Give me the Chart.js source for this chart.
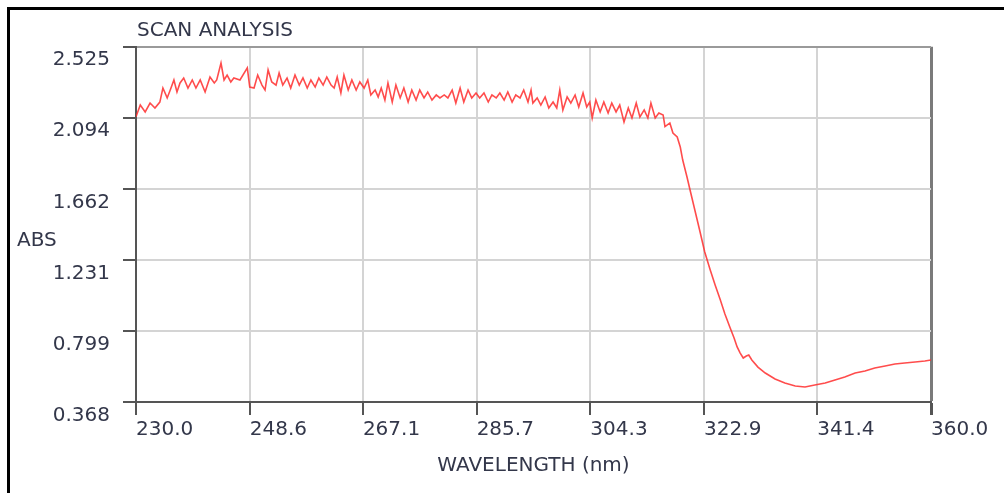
<!DOCTYPE html>
<html>
<head>
<meta charset="utf-8">
<script src="https://cdn.jsdelivr.net/npm/chart.js@4.4.1/dist/chart.umd.min.js"></script>
<style>
  html, body { margin:0; padding:0; background:#fff; overflow:hidden; }
  body { width:1004px; height:493px; position:relative; font-family:"DejaVu Sans", sans-serif; color:#33374a; }
  #frame { position:absolute; left:7px; top:7px; width:1100px; height:600px; border:3px solid #000; }
  #chart { position:absolute; left:0; top:0; }
  .lbl { position:absolute; font-size:20px; line-height:22px; white-space:nowrap; }
  #title { left:137px; top:18px; }
  #ylab { left:17px; top:228px; }
</style>
</head>
<body>
<div id="frame"></div>
<canvas id="chart" width="1004" height="493"></canvas>
<div class="lbl" id="title">SCAN ANALYSIS</div>
<div class="lbl" id="ylab">ABS</div>
<script>
// scan data
const wavelengths = [
  230.0,230.7,231.5,232.3,233.1,233.9,234.4,235.1,235.6,236.2,236.7,237.2,237.8,238.5,239.2,239.8,
  240.5,241.3,242.1,242.8,243.2,243.9,244.4,244.9,245.5,246.0,247.0,248.2,248.6,249.3,249.9,
  250.6,251.1,251.6,252.2,252.9,253.4,254.0,254.7,255.3,256.0,256.7,257.3,258.0,258.6,259.3,259.9,
  260.6,261.2,261.9,262.4,262.9,263.5,264.0,264.7,265.3,266.0,266.6,267.3,267.9,268.4,269.1,269.6,
  270.1,270.7,271.2,271.9,272.5,273.2,273.8,274.5,275.1,275.8,276.4,277.1,277.7,278.4,279.1,279.7,
  280.4,281.0,281.7,282.3,283.0,283.6,284.3,284.9,285.6,286.2,286.9,287.6,288.2,288.9,289.5,
  290.2,290.8,291.5,292.1,292.8,293.4,294.1,294.6,294.9,295.6,296.2,296.9,297.5,298.2,298.8,299.3,299.8,
  300.5,301.1,301.8,302.4,303.1,303.7,304.2,304.6,305.2,305.9,306.5,307.2,307.8,308.5,309.1,309.8,
  310.5,311.1,311.8,312.4,313.1,313.7,314.2,314.9,315.5,316.2,316.5,317.3,317.8,318.5,319.0,319.4,
  320.1,320.6,322.2,323.0,323.4,323.9,324.7,325.5,326.3,327.1,327.8,328.3,328.8,329.3,329.8,
  330.2,330.7,331.7,332.9,334.5,336.1,337.8,339.4,341.0,342.7,344.3,345.9,347.6,349.2,
  350.8,352.5,354.1,355.7,357.4,359.0,360.0
];
const absorbance = [
  2.100,2.171,2.129,2.183,2.153,2.189,2.274,2.214,2.262,2.323,2.250,2.305,2.335,2.274,2.323,2.274,
  2.323,2.250,2.341,2.305,2.323,2.426,2.323,2.353,2.311,2.335,2.323,2.396,2.280,2.274,2.353,
  2.292,2.262,2.384,2.311,2.292,2.365,2.292,2.335,2.274,2.353,2.292,2.335,2.274,2.323,2.280,2.335,
  2.292,2.341,2.292,2.274,2.341,2.244,2.353,2.262,2.323,2.262,2.311,2.274,2.323,2.232,2.262,2.220,
  2.274,2.201,2.305,2.189,2.292,2.214,2.274,2.189,2.262,2.201,2.262,2.214,2.250,2.201,2.232,2.214,
  2.232,2.214,2.262,2.183,2.274,2.189,2.262,2.214,2.244,2.214,2.244,2.189,2.232,2.214,2.244,
  2.201,2.250,2.189,2.232,2.214,2.262,2.189,2.262,2.183,2.214,2.171,2.220,2.153,2.189,2.153,2.262,2.141,
  2.220,2.183,2.232,2.159,2.244,2.159,2.189,2.092,2.201,2.129,2.189,2.122,2.183,2.129,2.171,2.068,
  2.153,2.092,2.183,2.098,2.141,2.092,2.183,2.092,2.122,2.110,2.040,2.062,2.001,1.977,1.916,1.837,
  1.734,1.655,1.406,1.279,1.230,1.169,1.078,0.993,0.902,0.823,0.757,0.702,0.665,0.635,0.647,
  0.653,0.623,0.580,0.544,0.508,0.483,0.465,0.459,0.471,0.483,0.502,0.520,0.544,0.556,
  0.574,0.587,0.599,0.605,0.611,0.617,0.623
];
const xTicks = [230.0, 248.6, 267.1, 285.7, 304.3, 322.9, 341.4, 360.0];
const yTicks = [0.368, 0.799, 1.231, 1.662, 2.094, 2.525];

const textColor = '#33374a';
const font = {family:'"DejaVu Sans", sans-serif', size:20};

new Chart(document.getElementById('chart'), {
  type:'line',
  data:{ datasets:[{
    data: wavelengths.map((w,i) => ({x:w, y:absorbance[i]})),
    borderColor:'rgba(255,45,45,0.85)', borderWidth:1.6, pointRadius:0, tension:0, fill:false
  }]},
  options:{
    responsive:false, animation:false, devicePixelRatio:1,
    layout:{ padding:{left:0, top:46.7, right:73, bottom:0} },
    plugins:{ legend:{display:false}, tooltip:{enabled:false}, title:{display:false} },
    scales:{
      x:{
        type:'linear', min:230, max:360,
        afterBuildTicks: s => { s.ticks = xTicks.map(v => ({value:v})); },
        afterFit: s => { s.height = 91; },
        grid:{
          color: c => c.index === xTicks.length - 1 ? '#7a7a7a' : '#d4d4d4',
          lineWidth: c => c.index === xTicks.length - 1 ? 3 : 2,
          tickColor:'#555', tickLength:13, drawTicks:true
        },
        border:{ color:'#555', width:2 },
        ticks:{ autoSkip:false, maxRotation:0, align:'start', padding:3, color:textColor, font,
          callback: v => Number(v).toFixed(1) },
        title:{ display:true, text:'WAVELENGTH (nm)', color:textColor, font, padding:{top:0, bottom:15} }
      },
      y:{
        type:'linear', min:0.368, max:2.525,
        afterBuildTicks: s => { s.ticks = yTicks.map(v => ({value:v})); },
        afterFit: s => { s.width = 136; },
        grid:{
          color: c => c.index === yTicks.length - 1 ? '#9a9a9a' : '#d4d4d4',
          lineWidth:2, tickColor:'#555', tickLength:13
        },
        border:{ color:'#555', width:2 },
        ticks:{ autoSkip:false, padding:13, color:textColor,
          font:{family:font.family, size:20, lineHeight:27/20},
          callback: v => ['', Number(v).toFixed(3)] }
      }
    }
  }
});
</script>
</body>
</html>
